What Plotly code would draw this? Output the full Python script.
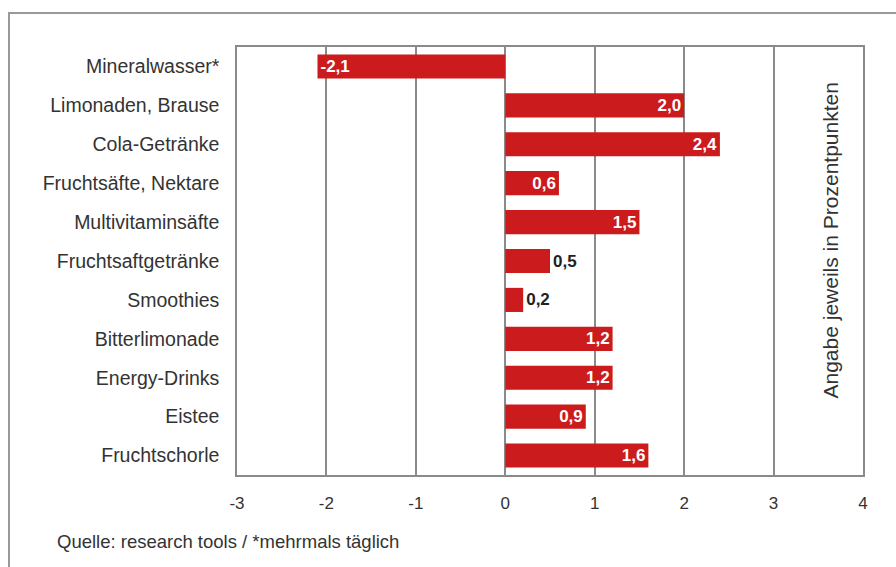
import plotly.graph_objects as go

categories = ["Mineralwasser*", "Limonaden, Brause", "Cola-Getränke", "Fruchtsäfte, Nektare",
              "Multivitaminsäfte", "Fruchtsaftgetränke", "Smoothies", "Bitterlimonade",
              "Energy-Drinks", "Eistee", "Fruchtschorle"]
values = [-2.1, 2.0, 2.4, 0.6, 1.5, 0.5, 0.2, 1.2, 1.2, 0.9, 1.6]
tick_vals = [-3, -2, -1, 0, 1, 2, 3, 4]

labels = [f"{v:.1f}".replace(".", ",") for v in values]
positions = ["outside" if abs(v) < 0.6 else "inside" for v in values]

FONT = "Liberation Sans, Arial, sans-serif"
RED = "#cc1b1d"
GRID = "#8a8a8a"

fig = go.Figure(go.Bar(
    x=values, y=categories, orientation="h",
    marker=dict(color=RED, line=dict(width=0)),
    text=labels, textposition=positions, insidetextanchor="end",
    insidetextfont=dict(color="white", size=17, family=FONT, weight="bold"),
    outsidetextfont=dict(color="#222", size=17, family=FONT, weight="bold"),
    textangle=0, cliponaxis=False, width=0.62,
))

fig.update_layout(
    width=896, height=567,
    margin=dict(l=237, r=33, t=47, b=92),
    paper_bgcolor="white", plot_bgcolor="white",
    showlegend=False,
    font=dict(family=FONT, size=19, color="#333"),
    uniformtext=dict(minsize=17, mode="show"),
    xaxis=dict(range=[-3, 4], tickvals=tick_vals, ticktext=[str(t) for t in tick_vals],
               showgrid=True, gridcolor=GRID, gridwidth=1.5,
               zeroline=True, zerolinecolor=GRID, zerolinewidth=1.5,
               showline=True, linecolor=GRID, linewidth=1.5, mirror=True,
               ticks="", ticklabelstandoff=12, fixedrange=True,
               tickfont=dict(size=17)),
    yaxis=dict(autorange="reversed", showgrid=False, zeroline=False,
               showline=True, linecolor=GRID, linewidth=1.5, mirror=True,
               ticks="", ticklabelstandoff=12, fixedrange=True,
               tickfont=dict(size=19.5)),
    shapes=[dict(type="rect", xref="paper", yref="paper",
                 x0=-228/626, x1=1.2, y0=-0.4, y1=1 + 34/428,
                 line=dict(color="#999", width=2))],
    annotations=[
        dict(text="Angabe jeweils in Prozentpunkten", textangle=-90,
             xref="paper", yref="paper", x=(843 - 237) / 626, y=(475 - 241) / 428,
             showarrow=False, font=dict(size=21, color="#333", family=FONT)),
        dict(text="Quelle: research tools / *mehrmals täglich",
             xref="paper", yref="paper", x=(55 - 237) / 626, y=-(541 - 475) / 428,
             xanchor="left", yanchor="middle", showarrow=False,
             font=dict(size=18.5, color="#333", family=FONT)),
    ],
)

fig.write_html("out.html")
